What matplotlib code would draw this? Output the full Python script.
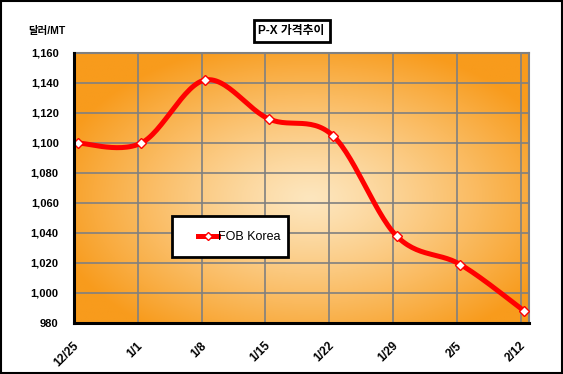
import numpy as np
import matplotlib.pyplot as plt
import matplotlib.transforms as mtransforms
from matplotlib.patches import Rectangle

plt.rcParams['font.family'] = ['Liberation Sans', 'Noto Sans CJK KR', 'DejaVu Sans']

# data
dates = ['12/25', '1/1', '1/8', '1/15', '1/22', '1/29', '2/5', '2/12']
fob_korea = [1100, 1100, 1142, 1116, 1105, 1038, 1019, 988]
y_ticks = list(range(980, 1161, 20))


# Excel-like smoothed line (Catmull-Rom through the points)
def smooth(xs, ys, n=30):
    xs = np.asarray(xs, float)
    ys = np.asarray(ys, float)
    px = np.concatenate([[xs[0]], xs, [xs[-1]]])
    py = np.concatenate([[ys[0]], ys, [ys[-1]]])
    ox, oy = [], []
    for i in range(1, len(px) - 2):
        t = np.linspace(0, 1, n)
        p0, p1, p2, p3 = [np.array([px[j], py[j]]) for j in (i - 1, i, i + 1, i + 2)]
        c1 = p1 + (p2 - p0) / 6
        c2 = p2 - (p3 - p1) / 6
        b = ((1 - t) ** 3)[:, None] * p1 + (3 * (1 - t) ** 2 * t)[:, None] * c1 \
            + (3 * (1 - t) * t ** 2)[:, None] * c2 + (t ** 3)[:, None] * p2
        ox.extend(b[:, 0])
        oy.extend(b[:, 1])
    return np.array(ox), np.array(oy)


fig = plt.figure(figsize=(5.63, 3.74), dpi=100)
fig.patches.append(Rectangle((0.002, 0.003), 0.996, 0.994, transform=fig.transFigure,
                             fill=False, ec='black', lw=1.5))

ax = fig.add_axes([74 / 563, 51 / 374, 455 / 563, 270 / 374])
x = np.arange(len(dates))
xmax = 7.13
ymin, ymax = 980, 1160

# radial gradient background
gx, gy = np.meshgrid(np.linspace(0, 1, 300), np.linspace(0, 1, 200))
r = np.sqrt(((gx - 0.52) / 0.58) ** 2 + ((gy - 0.46) / 0.6) ** 2)
r = np.clip(r, 0, 1) ** 1.2
edge = np.array([248, 155, 28]) / 255
center = np.array([253, 230, 190]) / 255
img = center[None, None, :] * (1 - r[..., None]) + edge[None, None, :] * r[..., None]
ax.imshow(img, extent=[0, xmax, ymin, ymax], aspect='auto', origin='lower', zorder=0)

ax.set_xlim(0, xmax)
ax.set_ylim(ymin, ymax)
ax.set_yticks(y_ticks)
ax.set_yticklabels([f'{v:,}' for v in y_ticks], fontsize=8, fontweight='bold')
ax.set_xticks(x)
ax.set_xticklabels(dates, rotation=45, ha='right', va='top', fontsize=8.5, fontweight='bold')
ax.tick_params(axis='y', length=0, pad=11)
ax.tick_params(axis='x', length=0, pad=12)
shift = mtransforms.ScaledTranslation(0.07, 0, fig.dpi_scale_trans)
for lbl in ax.get_xticklabels():
    lbl.set_transform(lbl.get_transform() + shift)

ax.grid(True, color='#808080', lw=1.2)
for g in ax.get_xgridlines() + ax.get_ygridlines():
    g.set_zorder(1)

for s in ('top', 'right'):
    ax.spines[s].set_color('#808080')
    ax.spines[s].set_linewidth(1.5)
for s in ('left', 'bottom'):
    ax.spines[s].set_color('black')
    ax.spines[s].set_linewidth(2.2)
    ax.spines[s].set_zorder(5)

# series is drawn a few pixels right of the gridlines, as in the source
off = mtransforms.offset_copy(ax.transData, fig=fig, x=3.5, y=0, units='dots')
sx, sy = smooth(x, fob_korea)
ax.plot(sx, sy, color='red', lw=3.6, zorder=3, solid_capstyle='round', transform=off)
ax.plot(x, fob_korea, ls='none', marker='D', ms=5.5, mfc='white', mec='red', mew=1,
        zorder=4, clip_on=False, transform=off)

# legend
ax.add_patch(Rectangle((0.2154, 0.244), 0.2555, 0.151, transform=ax.transAxes,
                       fc='white', ec='black', lw=2, zorder=6))
leg_h, = ax.plot([], [], color='red', lw=3.6, marker='D', ms=4.5, mfc='white', mec='red')
leg = ax.legend([leg_h], ['FOB Korea'], loc='center left', bbox_to_anchor=(0.272, 0.318),
                frameon=False, fontsize=9, handlelength=1.6,
                borderpad=0, handletextpad=0.05, borderaxespad=0)
leg.set_zorder(7)

fig.text(0.518, 0.917, 'P-X 가격추이', ha='center', va='center', fontsize=8.5, fontweight='bold',
         bbox=dict(boxstyle='square,pad=0.4', fc='white', ec='black', lw=2))
fig.text(0.083, 0.918, '달러/MT', ha='center', va='center', fontsize=7.5, fontweight='bold')

fig.savefig('out.png', dpi=100)
